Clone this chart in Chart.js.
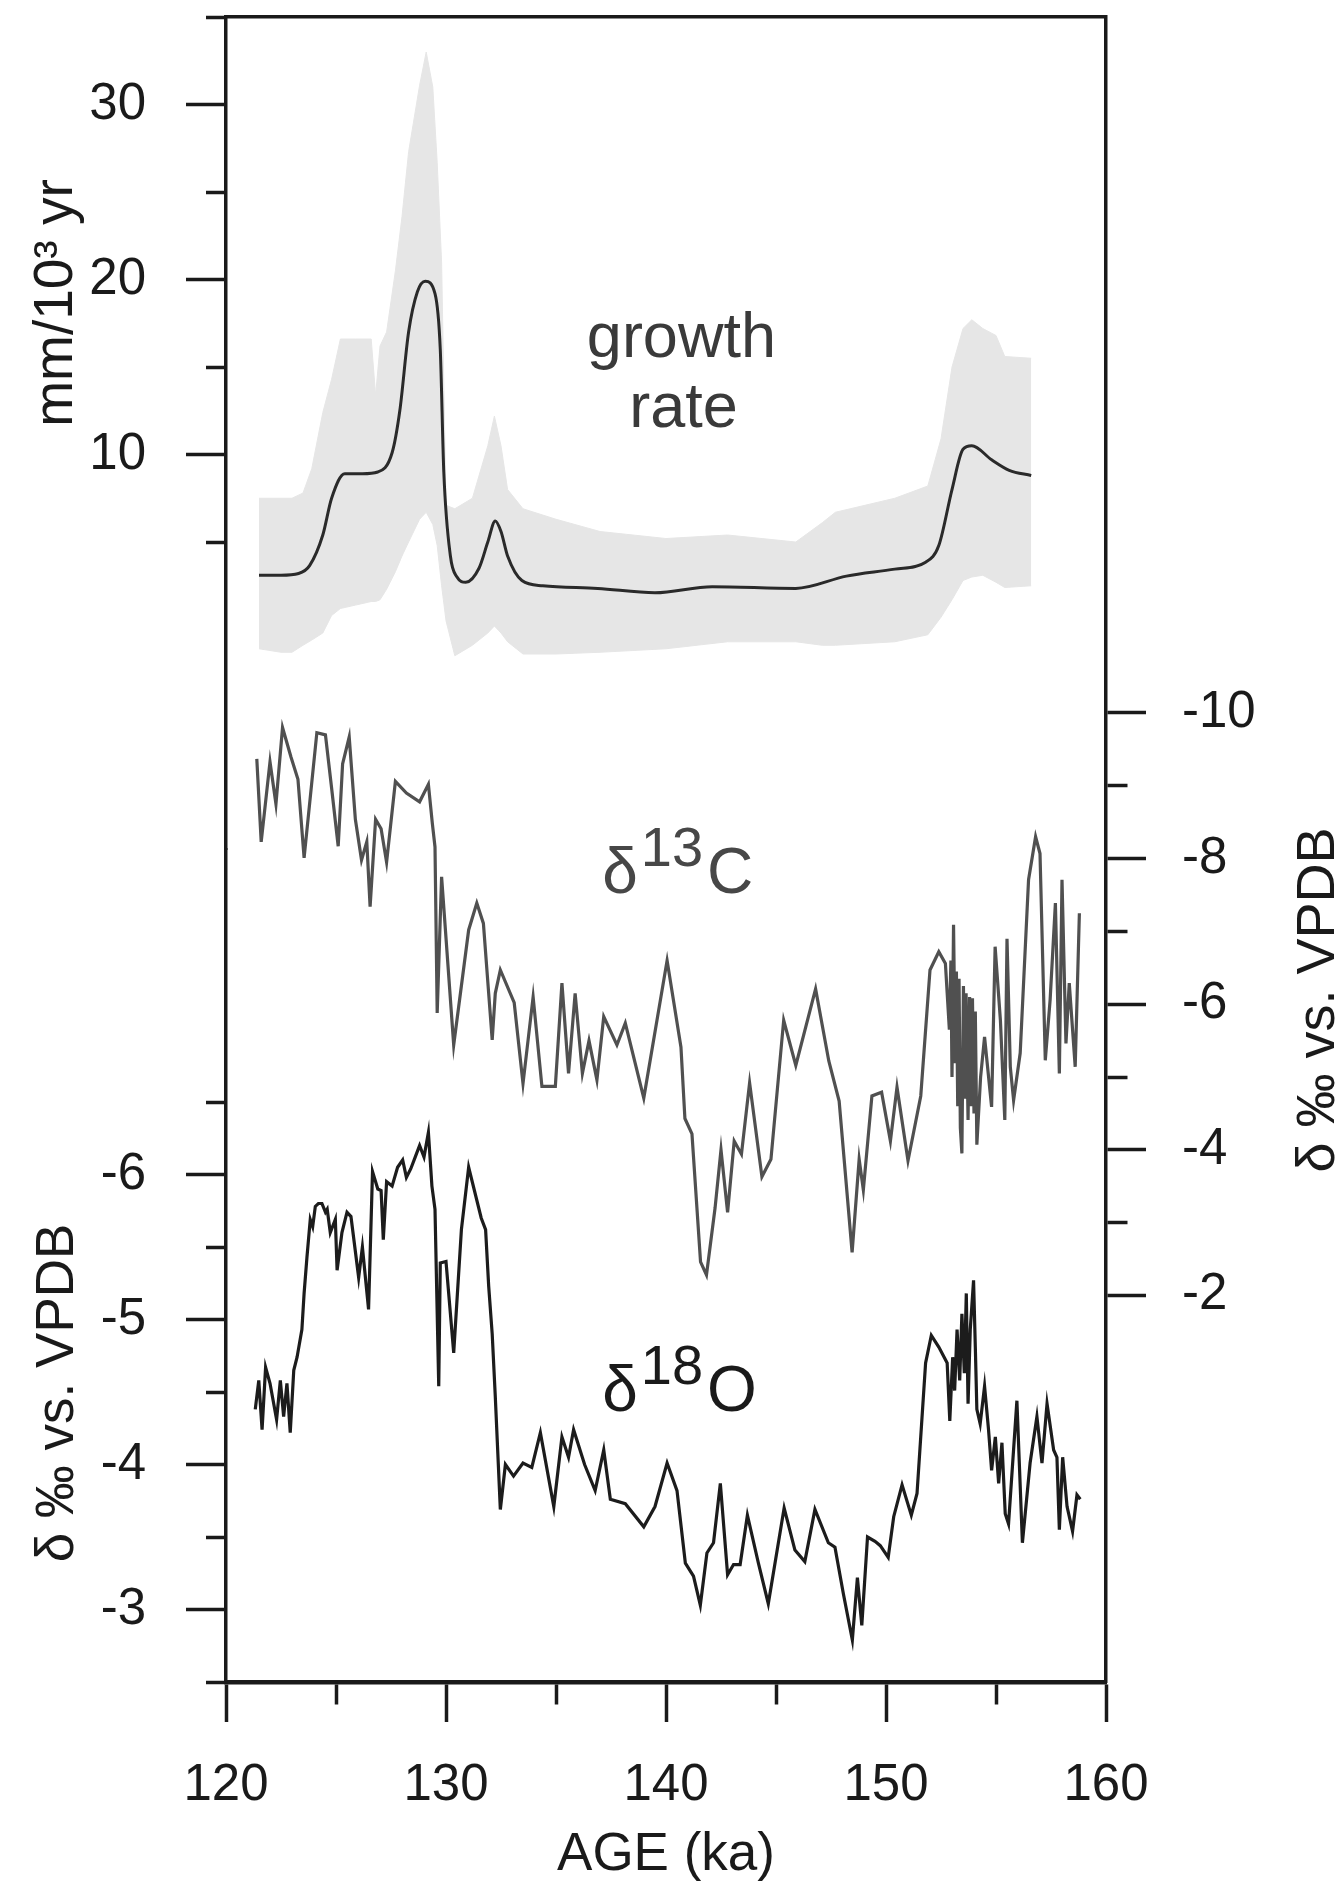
<!DOCTYPE html>
<html lang="en">
<head>
<meta charset="utf-8">
<title>growth rate, δ13C and δ18O vs age</title>
<script src="https://cdn.jsdelivr.net/npm/chart.js@4.4.1/dist/chart.umd.min.js"></script>
<style>
  html, body { margin: 0; padding: 0; background: #fff; }
  #grafico { display: block; }
</style>
</head>
<body>
<canvas id="grafico" width="1343" height="1886"></canvas>
<script>
// growth rate (mm/10^3 yr): uncertainty band and central curve
const bandAge = [121.5, 122.5, 123.0, 123.5, 123.9, 124.4, 124.8, 125.2, 125.9, 126.6, 126.8, 127.0, 127.3, 127.7, 128.0, 128.3, 128.8, 129.1, 129.4, 129.6, 129.8, 130.0, 130.4, 131.2, 131.9, 132.2, 132.5, 132.8, 133.5, 135.0, 137.0, 140.0, 142.8, 145.9, 147.1, 147.7, 150.4, 151.9, 152.5, 153.0, 153.5, 153.9, 154.4, 155.0, 155.4, 156.6]
const bandUpper = [7.5, 7.5, 7.5, 7.8, 9.2, 12.4, 14.3, 16.6, 16.6, 16.6, 13.4, 16.2, 17.0, 20.5, 23.6, 27.3, 31.1, 33.0, 31.0, 26.7, 21.0, 7.1, 6.9, 7.5, 10.5, 12.2, 10.5, 8.0, 6.9, 6.3, 5.6, 5.2, 5.4, 5.0, 6.1, 6.7, 7.5, 8.2, 10.9, 15.0, 17.2, 17.7, 17.2, 16.8, 15.6, 15.5]
const bandLower = [-1.1, -1.3, -1.3, -0.9, -0.6, -0.2, 0.8, 1.2, 1.4, 1.6, 1.6, 1.7, 2.3, 3.3, 4.2, 5.0, 6.3, 6.7, 6.0, 4.8, 2.5, 0.5, -1.5, -0.9, -0.2, 0.2, -0.2, -0.7, -1.4, -1.4, -1.3, -1.1, -0.7, -0.7, -0.9, -0.9, -0.7, -0.3, 0.7, 1.7, 2.8, 3.0, 3.1, 2.7, 2.4, 2.5]

const growthAge = [121.5, 122.5, 123.3, 123.8, 124.4, 124.8, 125.4, 126.2, 126.9, 127.55, 127.9, 128.3, 128.7, 129.06, 129.5, 129.74, 129.9, 130.2, 130.5, 130.9, 131.5, 131.9, 132.24, 132.5, 132.8, 133.45, 134.4, 136.9, 139.5, 142.1, 145.9, 148.2, 150.4, 151.8, 152.4, 153.0, 153.5, 153.9, 154.8, 155.6, 156.6]
const growthRate = [3.1, 3.1, 3.2, 3.65, 5.4, 7.5, 8.9, 8.9, 9.0, 10.1, 12.5, 17.0, 19.3, 19.9, 19.2, 16.0, 9.0, 4.2, 3.0, 2.7, 3.5, 5.0, 6.2, 5.6, 4.2, 2.8, 2.5, 2.35, 2.1, 2.45, 2.35, 3.05, 3.45, 3.85, 4.8, 8.0, 10.3, 10.5, 9.7, 9.1, 8.8]

// d13C (permil vs VPDB), right axis
const carbonAge = [121.4, 121.6, 122.0, 122.27, 122.57, 122.95, 123.27, 123.55, 124.13, 124.52, 124.8, 125.1, 125.3, 125.6, 125.88, 126.16, 126.4, 126.55, 126.8, 127.05, 127.3, 127.7, 128.2, 128.8, 129.2, 129.38, 129.5, 129.6, 129.8, 130.35, 131.03, 131.4, 131.7, 131.94, 132.1, 132.24, 132.47, 133.1, 133.5, 133.96, 134.36, 134.97, 135.27, 135.57, 135.87, 136.2, 136.5, 136.86, 137.17, 137.77, 138.15, 138.99, 140.05, 140.68, 140.86, 141.18, 141.57, 141.84, 142.23, 142.5, 142.8, 143.1, 143.43, 143.8, 144.36, 144.77, 145.35, 145.9, 146.8, 147.4, 147.87, 148.46, 148.78, 148.97, 149.36, 149.8, 150.2, 150.5, 151.0, 151.58, 152.0, 152.4, 152.7, 152.88, 152.95, 153.0, 153.07, 153.15, 153.2, 153.26, 153.32, 153.38, 153.45, 153.52, 153.58, 153.64, 153.73, 153.8, 153.87, 153.93, 154.0, 154.06, 154.13, 154.3, 154.48, 154.8, 154.96, 155.2, 155.4, 155.5, 155.65, 155.8, 156.1, 156.48, 156.8, 157.0, 157.24, 157.46, 157.7, 157.88, 158.0, 158.18, 158.33, 158.6, 158.79]
const carbonValue = [-9.37, -8.23, -9.33, -8.75, -9.8, -9.4, -9.09, -8.01, -9.73, -9.7, -8.97, -8.17, -9.3, -9.67, -8.54, -7.98, -8.23, -7.34, -8.54, -8.41, -7.95, -9.06, -8.9, -8.78, -9.02, -8.48, -8.16, -5.88, -7.75, -5.44, -7.02, -7.39, -7.11, -6.15, -5.51, -6.15, -6.47, -6.02, -4.91, -6.1, -4.87, -4.87, -6.29, -5.05, -6.15, -5.05, -5.5, -4.96, -5.83, -5.44, -5.74, -4.71, -6.6, -5.41, -4.43, -4.22, -2.46, -2.28, -3.2, -4.0, -3.14, -4.12, -3.94, -4.92, -3.63, -3.87, -5.78, -5.16, -6.21, -5.22, -4.67, -2.59, -3.87, -3.45, -4.74, -4.79, -4.12, -4.86, -3.85, -4.74, -6.47, -6.72, -6.56, -5.65, -6.6, -5.0, -7.09, -5.19, -6.45, -4.6, -6.35, -4.3, -3.95, -6.25, -4.7, -6.15, -4.41, -6.1, -4.6, -6.08, -4.5, -5.9, -4.07, -5.0, -5.55, -4.59, -6.79, -5.78, -4.41, -6.9, -5.14, -4.68, -5.33, -7.71, -8.3, -8.07, -5.23, -6.06, -7.39, -5.05, -7.71, -5.46, -6.29, -5.14, -7.25]

// d18O (permil vs VPDB), left lower axis
const oxygenAge = [121.33, 121.49, 121.64, 121.8, 122.0, 122.3, 122.47, 122.62, 122.77, 122.92, 123.08, 123.23, 123.45, 123.55, 123.68, 123.83, 123.94, 124.06, 124.2, 124.36, 124.52, 124.6, 124.74, 124.97, 125.05, 125.27, 125.5, 125.68, 126.03, 126.2, 126.48, 126.66, 126.9, 127.05, 127.15, 127.3, 127.55, 127.8, 128.03, 128.2, 128.4, 128.6, 128.8, 129.0, 129.2, 129.36, 129.5, 129.67, 129.74, 130.0, 130.35, 130.7, 131.03, 131.6, 131.8, 131.94, 132.1, 132.24, 132.47, 132.7, 133.07, 133.5, 133.9, 134.29, 134.9, 135.27, 135.57, 135.8, 136.3, 136.78, 137.17, 137.47, 138.15, 138.99, 139.5, 140.05, 140.5, 140.88, 141.25, 141.56, 141.86, 142.16, 142.47, 142.8, 143.07, 143.37, 143.7, 144.2, 144.65, 145.37, 145.86, 146.31, 146.77, 147.38, 147.68, 148.06, 148.47, 148.7, 148.9, 149.16, 149.5, 149.74, 150.1, 150.35, 150.73, 151.15, 151.41, 151.8, 152.06, 152.4, 152.78, 152.9, 153.03, 153.12, 153.23, 153.35, 153.45, 153.56, 153.65, 153.73, 153.83, 153.98, 154.06, 154.13, 154.28, 154.48, 154.66, 154.8, 154.97, 155.12, 155.27, 155.42, 155.57, 155.95, 156.2, 156.55, 156.86, 157.09, 157.32, 157.62, 157.77, 157.88, 158.03, 158.23, 158.48, 158.68, 158.83]
const oxygenValue = [-4.38, -4.58, -4.24, -4.67, -4.56, -4.31, -4.58, -4.33, -4.56, -4.22, -4.65, -4.74, -4.93, -5.18, -5.43, -5.69, -5.64, -5.78, -5.8, -5.8, -5.74, -5.76, -5.6, -5.69, -5.34, -5.6, -5.74, -5.71, -5.29, -5.5, -5.07, -6.02, -5.9, -5.89, -5.55, -5.95, -5.92, -6.05, -6.1, -5.98, -6.04, -6.12, -6.2, -6.12, -6.29, -5.92, -5.76, -4.54, -5.39, -5.4, -4.77, -5.62, -6.05, -5.7, -5.62, -5.23, -4.9, -4.47, -3.69, -4.0, -3.92, -4.01, -3.98, -4.22, -3.71, -4.19, -4.05, -4.24, -4.0, -3.82, -4.1, -3.76, -3.73, -3.57, -3.71, -4.01, -3.82, -3.32, -3.23, -3.03, -3.39, -3.46, -3.87, -3.24, -3.31, -3.31, -3.65, -3.32, -3.04, -3.7, -3.41, -3.33, -3.69, -3.46, -3.43, -3.11, -2.79, -3.22, -2.89, -3.5, -3.47, -3.44, -3.36, -3.64, -3.86, -3.65, -3.8, -4.7, -4.89, -4.81, -4.7, -4.3, -4.74, -4.51, -4.93, -4.58, -5.04, -4.63, -5.18, -4.42, -4.93, -5.27, -4.81, -4.38, -4.28, -4.54, -4.24, -3.96, -4.19, -3.87, -4.15, -3.66, -3.59, -4.44, -3.46, -4.01, -4.33, -4.01, -4.42, -4.1, -4.05, -3.55, -4.05, -3.71, -3.54, -3.79, -3.76]

// tick positions and the ones that carry a label
const xTicks = [120, 125, 130, 135, 140, 145, 150, 155, 160]
const xLabels = [120, 130, 140, 150, 160]
const growthTicks = [5, 10, 15, 20, 25, 30, 35]
const growthLabels = [10, 20, 30]
const oxygenTicks = [-6.5, -6, -5.5, -5, -4.5, -4, -3.5, -3, -2.5]
const oxygenLabels = [-6, -5, -4, -3]
const carbonTicks = [-10, -9, -8, -7, -6, -5, -4, -3, -2]
const carbonLabels = [-10, -8, -6, -4, -2]

const FONT = "'Liberation Sans', Arial, Helvetica, sans-serif"
const INK = '#1a1a1a'

const toPoints = (xs, ys) => xs.map((x, i) => ({x: x, y: ys[i]}))

// every tick is 40px long; unlabelled ones only keep the 20px next to the spine
const tickDash = (labels, outerFirst) => (c) => {
    if (!c.tick || labels.includes(c.tick.value)) return []
    return outerFirst ? [0, 20, 20, 200] : [20, 200]
}

const fixSize = (size) => (scale) => {
    if (scale.isHorizontal()) scale.height = size
    else scale.width = size
    scale.paddingLeft = 0
    scale.paddingRight = 0
    scale.paddingTop = 0
    scale.paddingBottom = 0
}

function axis(tickList, labels, outerFirst, padding, extra) {
    return Object.assign({
        type: 'linear',
        afterBuildTicks: (s) => { s.ticks = tickList.map(v => ({value: v})) },
        ticks: {
            autoSkip: false,
            maxRotation: 0,
            minRotation: 0,
            padding: padding,
            color: INK,
            font: {family: FONT, size: 51},
            callback: (v) => labels.includes(v) ? String(v) : ''
        },
        grid: {
            drawOnChartArea: false,
            tickLength: 40,
            tickWidth: 3.5,
            tickColor: INK,
            tickBorderDash: tickDash(labels, outerFirst)
        },
        border: {color: INK, width: 3.5}
    }, extra)
}

function sideTitle(ctx, text, x, y, size) {
    ctx.save()
    ctx.translate(x, y)
    ctx.rotate(-Math.PI / 2)
    ctx.font = `${size}px ${FONT}`
    ctx.textAlign = 'center'
    ctx.textBaseline = 'alphabetic'
    ctx.fillText(text, 0, 0)
    ctx.restore()
}

function isotope(ctx, x, y, mass, element, color) {
    ctx.fillStyle = color
    ctx.textAlign = 'left'
    ctx.textBaseline = 'alphabetic'
    ctx.font = `64px ${FONT}`
    ctx.fillText('δ', x, y)
    let cx = x + ctx.measureText('δ').width + 3
    ctx.font = `56px ${FONT}`
    ctx.fillText(mass, cx, y - 27)
    cx += ctx.measureText(mass).width + 4
    ctx.font = `64px ${FONT}`
    ctx.fillText(element, cx, y)
}

const textPlugin = {
    id: 'texts',
    afterDraw(chart) {
        const ctx = chart.ctx
        const {x, yG, yO, yC} = chart.scales
        ctx.save()
        ctx.fillStyle = INK
        sideTitle(ctx, 'mm/10³ yr', 72, 303, 55)
        sideTitle(ctx, 'δ ‰ vs. VPDB', 73, 1393, 53)
        sideTitle(ctx, 'δ ‰ vs. VPDB', 1334, 1000, 54)

        ctx.fillStyle = '#3a3a3a'
        ctx.font = `63px ${FONT}`
        ctx.textAlign = 'center'
        ctx.textBaseline = 'alphabetic'
        ctx.fillText('growth', x.getPixelForValue(140.7), yG.getPixelForValue(15.6))
        ctx.fillText('rate', x.getPixelForValue(140.8), yG.getPixelForValue(11.6))

        isotope(ctx, x.getPixelForValue(137.1), yC.getPixelForValue(-7.53), '13', 'C', '#474747')
        isotope(ctx, x.getPixelForValue(137.1), yO.getPixelForValue(-4.37), '18', 'O', '#1a1a1a')
        ctx.restore()
    }
}

const datasets = [
    {
        label: 'growth rate',
        data: toPoints(growthAge, growthRate),
        xAxisID: 'x', yAxisID: 'yG',
        borderColor: '#2a2a2a', borderWidth: 3,
        pointRadius: 0, cubicInterpolationMode: 'monotone', fill: false, order: 0
    },
    {
        label: 'd13C',
        data: toPoints(carbonAge, carbonValue),
        xAxisID: 'x', yAxisID: 'yC',
        borderColor: '#505050', borderWidth: 3.2,
        pointRadius: 0, tension: 0, fill: false, order: 1
    },
    {
        label: 'd18O',
        data: toPoints(oxygenAge, oxygenValue),
        xAxisID: 'x', yAxisID: 'yO',
        borderColor: '#1c1c1c', borderWidth: 3.2,
        pointRadius: 0, tension: 0, fill: false, order: 2
    },
    {
        label: 'upper',
        data: toPoints(bandAge, bandUpper),
        xAxisID: 'x', yAxisID: 'yG',
        borderColor: '#e6e6e6', borderWidth: 1, backgroundColor: '#e6e6e6',
        pointRadius: 0, tension: 0, fill: '+1', order: 5
    },
    {
        label: 'lower',
        data: toPoints(bandAge, bandLower),
        xAxisID: 'x', yAxisID: 'yG',
        borderColor: '#e6e6e6', borderWidth: 1,
        pointRadius: 0, tension: 0, fill: false, order: 6
    }
]

const config = {
    type: 'line',
    data: {datasets},
    options: {
        responsive: false,
        animation: false,
        events: [],
        layout: {padding: 0},
        plugins: {legend: {display: false}, tooltip: {enabled: false}},
        scales: {
            x: axis(xTicks, xLabels, false, 33, {
                position: 'bottom', min: 120, max: 160,
                border: {color: INK, width: 4.5},
                title: {display: true, text: 'AGE (ka)', color: INK, font: {family: FONT, size: 53, lineHeight: 1}, padding: {top: 0, bottom: 4}},
                afterFit: fixSize(204)
            }),
            xTop: {
                type: 'linear', position: 'top', min: 120, max: 160,
                ticks: {display: false},
                grid: {drawOnChartArea: false, drawTicks: false},
                border: {color: INK, width: 3.5},
                afterFit: fixSize(17)
            },
            yG: axis(growthTicks, growthLabels, true, 40, {
                position: 'left', stack: 'left', stackWeight: 1, weight: 2,
                min: -12.57, max: 35,
                afterFit: fixSize(226)
            }),
            yO: axis(oxygenTicks, oxygenLabels, true, 40, {
                position: 'left', stack: 'left', stackWeight: 1, weight: 1,
                reverse: true, min: -8.2414, max: -2.5,
                afterFit: fixSize(226)
            }),
            yC: axis(carbonTicks, carbonLabels, false, 36, {
                position: 'right',
                reverse: true, min: -19.56, max: 3.31,
                afterFit: fixSize(237)
            })
        }
    },
    plugins: [textPlugin]
}

const grafico = document.querySelector('#grafico')
new Chart(grafico, config)
</script>
</body>
</html>
